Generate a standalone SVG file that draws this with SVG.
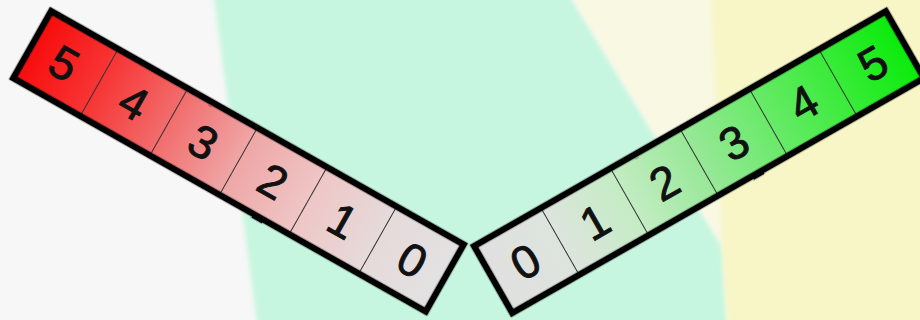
<svg xmlns="http://www.w3.org/2000/svg" width="920" height="320" viewBox="0 0 920 320">
  <style>
    .frame { fill: none; stroke: #000; stroke-width: 6.5; stroke-linejoin: miter; }
    .div { stroke: #333; stroke-width: 1; }
    .num { font-family: "Liberation Sans", Arial, sans-serif; font-size: 46px; fill: #111; stroke: #111; stroke-width: 0.9; text-anchor: middle; }
  </style>
  <defs>
    <linearGradient id="gRed" gradientUnits="userSpaceOnUse" x1="0" y1="0" x2="480" y2="0">
      <stop offset="0" stop-color="#f80a0a"/>
      <stop offset="0.17" stop-color="#f73535"/>
      <stop offset="0.33" stop-color="#f26b6b"/>
      <stop offset="0.5" stop-color="#efa6a6"/>
      <stop offset="0.67" stop-color="#efc6c6"/>
      <stop offset="0.83" stop-color="#e6dada"/>
      <stop offset="1" stop-color="#e2e2e2"/>
    </linearGradient>
    <linearGradient id="gGreen" gradientUnits="userSpaceOnUse" x1="0" y1="0" x2="480" y2="0">
      <stop offset="0" stop-color="#e0e0e0"/>
      <stop offset="0.17" stop-color="#dde4dd"/>
      <stop offset="0.33" stop-color="#c4ecc4"/>
      <stop offset="0.5" stop-color="#98e898"/>
      <stop offset="0.67" stop-color="#68ea68"/>
      <stop offset="0.83" stop-color="#3aeb3a"/>
      <stop offset="1" stop-color="#08eb08"/>
    </linearGradient>
    <filter id="soft" x="-10%" y="-10%" width="120%" height="120%">
      <feGaussianBlur stdDeviation="2.5"/>
    </filter>
    <filter id="rough" x="-5%" y="-10%" width="110%" height="120%">
      <feTurbulence type="fractalNoise" baseFrequency="0.04" numOctaves="1" seed="3" result="n"/>
      <feDisplacementMap in="SourceGraphic" in2="n" scale="2" xChannelSelector="R" yChannelSelector="G"/>
    </filter>
  </defs>

  <g id="background">
    <rect x="0" y="0" width="920" height="320" fill="#f7f7f7"/>
    <polygon points="213,-10 567,-10 723,247 727,330 258,330" fill="#c6f6df" filter="url(#soft)"/>
    <polygon points="567,-10 712,-10 722,247 723,247" fill="#f9f8e2" filter="url(#soft)"/>
    <polygon points="710,-10 930,-10 930,330 728,330 722,250" fill="#f8f6c6" filter="url(#soft)"/>
  </g>

  <g id="red-bar" transform="translate(50,7) rotate(29.5)">
    <rect x="3" y="3" width="474" height="77" fill="url(#gRed)"/>
    <g id="red-5"><text class="num" x="40" y="58">5</text></g>
    <g id="red-4"><line class="div" x1="80" y1="3" x2="80" y2="80"/><text class="num" x="120" y="58">4</text></g>
    <g id="red-3"><line class="div" x1="160" y1="3" x2="160" y2="80"/><text class="num" x="200" y="58">3</text></g>
    <g id="red-2"><line class="div" x1="240" y1="3" x2="240" y2="80"/><text class="num" x="280" y="58">2</text></g>
    <g id="red-1"><line class="div" x1="320" y1="3" x2="320" y2="80"/><text class="num" x="360" y="58">1</text></g>
    <g id="red-0"><line class="div" x1="400" y1="3" x2="400" y2="80"/><text class="num" x="440" y="58">0</text></g>
    <rect class="frame" x="3" y="3" width="474" height="77" filter="url(#rough)"/>
  </g>

  <g id="green-bar" transform="translate(470,245) rotate(-29.7)">
    <rect x="3" y="3" width="474" height="77" fill="url(#gGreen)"/>
    <g id="green-0"><text class="num" x="40" y="58">0</text></g>
    <g id="green-1"><line class="div" x1="80" y1="3" x2="80" y2="80"/><text class="num" x="120" y="58">1</text></g>
    <g id="green-2"><line class="div" x1="160" y1="3" x2="160" y2="80"/><text class="num" x="200" y="58">2</text></g>
    <g id="green-3"><line class="div" x1="240" y1="3" x2="240" y2="80"/><text class="num" x="280" y="58">3</text></g>
    <g id="green-4"><line class="div" x1="320" y1="3" x2="320" y2="80"/><text class="num" x="360" y="58">4</text></g>
    <g id="green-5"><line class="div" x1="400" y1="3" x2="400" y2="80"/><text class="num" x="440" y="58">5</text></g>
    <rect class="frame" x="3" y="3" width="474" height="77" filter="url(#rough)"/>
  </g>

  <g id="connectors"/>
</svg>
